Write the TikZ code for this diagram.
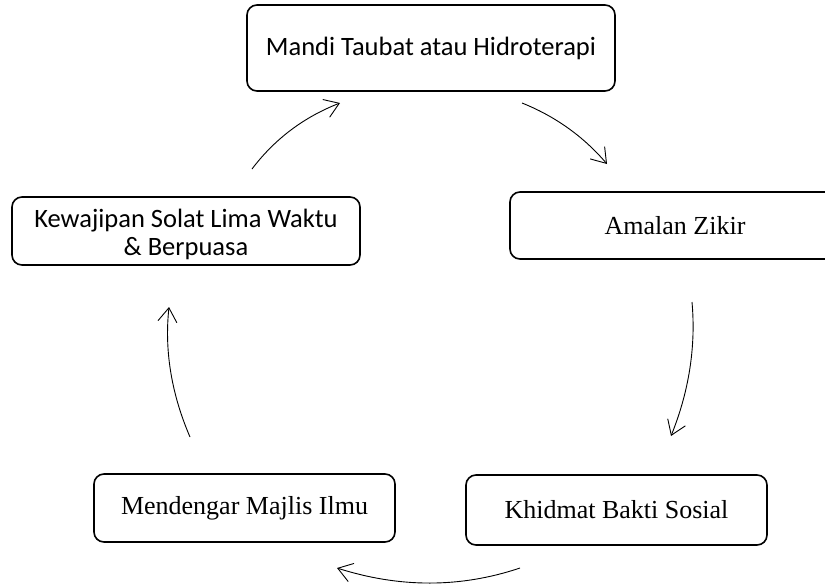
\documentclass[tikz,border=0pt]{standalone}
\usepackage{fontspec}
\setmainfont{Liberation Serif}
\newfontfamily\calib{Carlito}
\usetikzlibrary{arrows.meta,calc}
\begin{document}
\begin{tikzpicture}[x=1pt,y=-1pt,
  box/.style={draw, line width=1.6pt, rounded corners=10pt, inner sep=0pt, align=center,
    font=\fontsize{26}{31}\selectfont},
  cbox/.style={box, font=\calib\fontsize{26.5}{28.5}\selectfont},
  arr/.style={line width=0.9pt, -{Straight Barb[length=14pt,width=19pt,line width=0.9pt]}}]
\clip (0,0) rectangle (825,587);
\node[cbox, minimum width=368pt, minimum height=86pt] (top) at (431,48) {Mandi Taubat atau Hidroterapi};
\node[box, minimum width=330pt, minimum height=67pt] (zikir) at (675,225.5) {Amalan Zikir};
\node[box, minimum width=301pt, minimum height=70pt] (bakti) at (616.5,510) {Khidmat Bakti Sosial};
\node[box, minimum width=301pt, minimum height=68pt] (majlis) at (244.5,508) {Mendengar Majlis Ilmu};
\node[cbox, minimum width=348pt, minimum height=68pt] (solat) at (186,231) {\rule{0pt}{25pt}Kewajipan Solat Lima Waktu\\\& Berpuasa};

\coordinate (a1s) at (252,169); \coordinate (a1e) at (340,103); \coordinate (c1) at (286,124);
\coordinate (a2s) at (522,103); \coordinate (a2e) at (607,164); \coordinate (c2) at (572,123);
\coordinate (a3s) at (692,302); \coordinate (a3e) at (671,436); \coordinate (c3) at (698,369);
\coordinate (a4s) at (520,568); \coordinate (a4e) at (337,568); \coordinate (c4) at (431,598);
\coordinate (a5s) at (190,437); \coordinate (a5e) at (169,307); \coordinate (c5) at (162,372);

\draw[arr] (a1s) .. controls ($(a1s)!2/3!(c1)$) and ($(a1e)!2/3!(c1)$) .. (a1e);
\draw[arr] (a2s) .. controls ($(a2s)!2/3!(c2)$) and ($(a2e)!2/3!(c2)$) .. (a2e);
\draw[arr] (a3s) .. controls ($(a3s)!2/3!(c3)$) and ($(a3e)!2/3!(c3)$) .. (a3e);
\draw[arr] (a4s) .. controls ($(a4s)!2/3!(c4)$) and ($(a4e)!2/3!(c4)$) .. (a4e);
\draw[arr] (a5s) .. controls ($(a5s)!2/3!(c5)$) and ($(a5e)!2/3!(c5)$) .. (a5e);
\end{tikzpicture}
\end{document}
